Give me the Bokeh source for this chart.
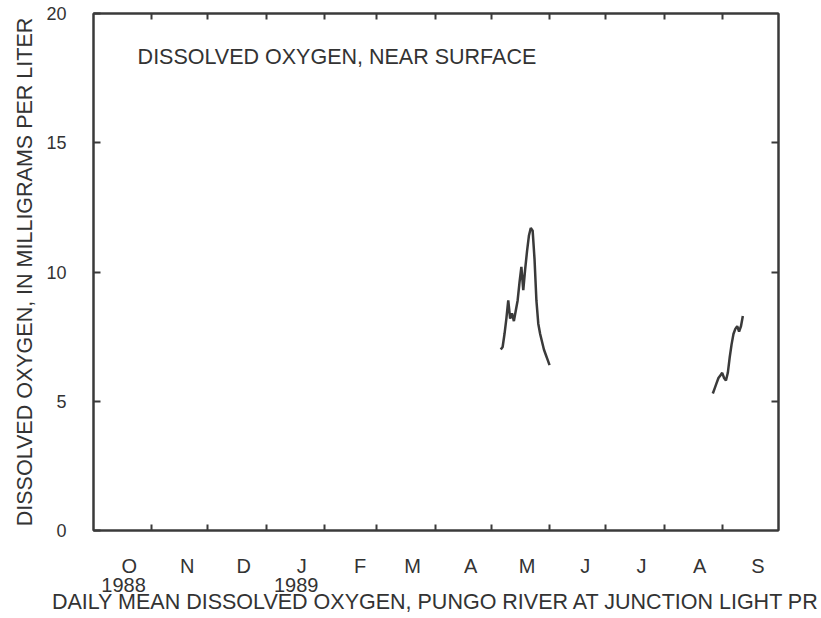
from bokeh.plotting import figure
from bokeh.models import FixedTicker, LinearAxis, Range1d, Label
from bokeh.embed import file_html
from bokeh.resources import INLINE

# ---- data (x = days since 1 Oct 1988, water year 1989) ----
month_names = ["O", "N", "D", "J", "F", "M", "A", "M", "J", "J", "A", "S"]
month_lengths = [31, 30, 31, 31, 28, 31, 30, 31, 30, 31, 31, 30]
year_names = ["1988", "1989"]
year_month_index = [0, 3]

spring_days = list(range(217, 244))
spring_do = [7.0, 7.1, 7.6, 8.2, 8.9, 8.2, 8.4, 8.1, 8.5, 8.9, 9.6, 10.2, 9.3,
             10.1, 10.8, 11.4, 11.7, 11.6, 10.5, 8.9, 8.0, 7.6, 7.3, 7.0, 6.8,
             6.6, 6.4]

summer_days = list(range(330, 347))
summer_do = [5.3, 5.5, 5.7, 5.9, 6.0, 6.1, 5.9, 5.8, 6.1, 6.7, 7.2, 7.6, 7.8,
             7.9, 7.7, 7.9, 8.3]

y_ticks = [0, 5, 10, 15, 20]

# ---- derived ----
month_starts = [0]
for n in month_lengths:
    month_starts.append(month_starts[-1] + n)
label_pos = [float(s + 19) for s in month_starts[:-1]]
month_overrides = {pos: name for pos, name in zip(label_pos, month_names)}
year_pos = [label_pos[i] - 3.0 for i in year_month_index]
year_overrides = {pos: name for pos, name in zip(year_pos, year_names)}

FONT = "Liberation Sans"
TXT = "#333333"
INK = "#3a3a3a"

p = figure(width=821, height=618, x_range=Range1d(0, 365), y_range=Range1d(0, 20),
           output_backend="svg", toolbar_location=None,
           min_border_left=93, min_border_right=43, min_border_top=13,
           min_border_bottom=88)
p.grid.visible = False
p.outline_line_color = INK
p.outline_line_width = 2
p.background_fill_color = "white"
p.border_fill_color = "white"

# bottom axis: month ticks + month letters
xa = p.xaxis[0]
xa.ticker = FixedTicker(ticks=label_pos, minor_ticks=month_starts[1:-1])
xa.major_label_overrides = month_overrides
xa.major_tick_in = 0
xa.major_tick_out = 0
xa.minor_tick_in = 6
xa.minor_tick_out = 0
xa.axis_line_color = INK
xa.axis_line_width = 2
xa.minor_tick_line_color = INK
xa.minor_tick_line_width = 2
xa.major_label_standoff = 24
xa.major_label_text_font = FONT
xa.major_label_text_font_size = "20px"
xa.major_label_text_color = TXT

# second bottom axis: years + axis title
ya2 = LinearAxis(ticker=FixedTicker(ticks=year_pos, minor_ticks=[]),
                 major_label_overrides=year_overrides,
                 major_tick_in=0, major_tick_out=0, axis_line_color=None,
                 major_tick_line_color=None,
                 major_label_standoff=-2,
                 major_label_text_font=FONT, major_label_text_font_size="20px",
                 major_label_text_color=TXT,
                 axis_label="DAILY MEAN DISSOLVED OXYGEN, PUNGO RIVER AT JUNCTION LIGHT PR",
                 axis_label_text_font=FONT, axis_label_text_font_style="normal",
                 axis_label_text_font_size="21.5px", axis_label_text_color=TXT,
                 axis_label_standoff=-5)
p.add_layout(ya2, "below")

# left axis
ya = p.yaxis[0]
ya.ticker = FixedTicker(ticks=y_ticks, minor_ticks=[])
ya.major_tick_in = 7
ya.major_tick_out = 0
ya.major_tick_line_color = INK
ya.major_tick_line_width = 2
ya.axis_line_color = INK
ya.axis_line_width = 2
ya.major_label_standoff = 27
ya.major_label_text_font = FONT
ya.major_label_text_font_size = "18px"
ya.major_label_text_color = TXT
ya.axis_label = "DISSOLVED OXYGEN, IN MILLIGRAMS PER LITER"
ya.axis_label_text_font = FONT
ya.axis_label_text_font_style = "normal"
ya.axis_label_text_font_size = "21.5px"
ya.axis_label_text_color = TXT
ya.axis_label_standoff = 6

# top axis (ticks only)
ta = LinearAxis(ticker=FixedTicker(ticks=[], minor_ticks=month_starts[1:-1]),
                major_tick_in=0, major_tick_out=0, minor_tick_in=6, minor_tick_out=0,
                minor_tick_line_color=INK, minor_tick_line_width=2,
                axis_line_color=INK, axis_line_width=2, major_label_standoff=0)
p.add_layout(ta, "above")

# right axis (ticks only)
ra = LinearAxis(ticker=FixedTicker(ticks=[], minor_ticks=y_ticks[1:-1]),
                major_tick_in=0, major_tick_out=0, minor_tick_in=7, minor_tick_out=0,
                minor_tick_line_color=INK, minor_tick_line_width=2,
                axis_line_color=INK, axis_line_width=2, major_label_standoff=0)
p.add_layout(ra, "right")

# data
p.line(spring_days, spring_do, line_color=INK, line_width=2.5)
p.line(summer_days, summer_do, line_color=INK, line_width=2.5)

p.add_layout(Label(x=23.5, y=18.3, text="DISSOLVED OXYGEN, NEAR SURFACE",
                   text_align="left", text_baseline="middle",
                   text_font=FONT, text_font_size="21.5px", text_color=TXT))

open("out.html", "w").write(file_html(p, INLINE))
